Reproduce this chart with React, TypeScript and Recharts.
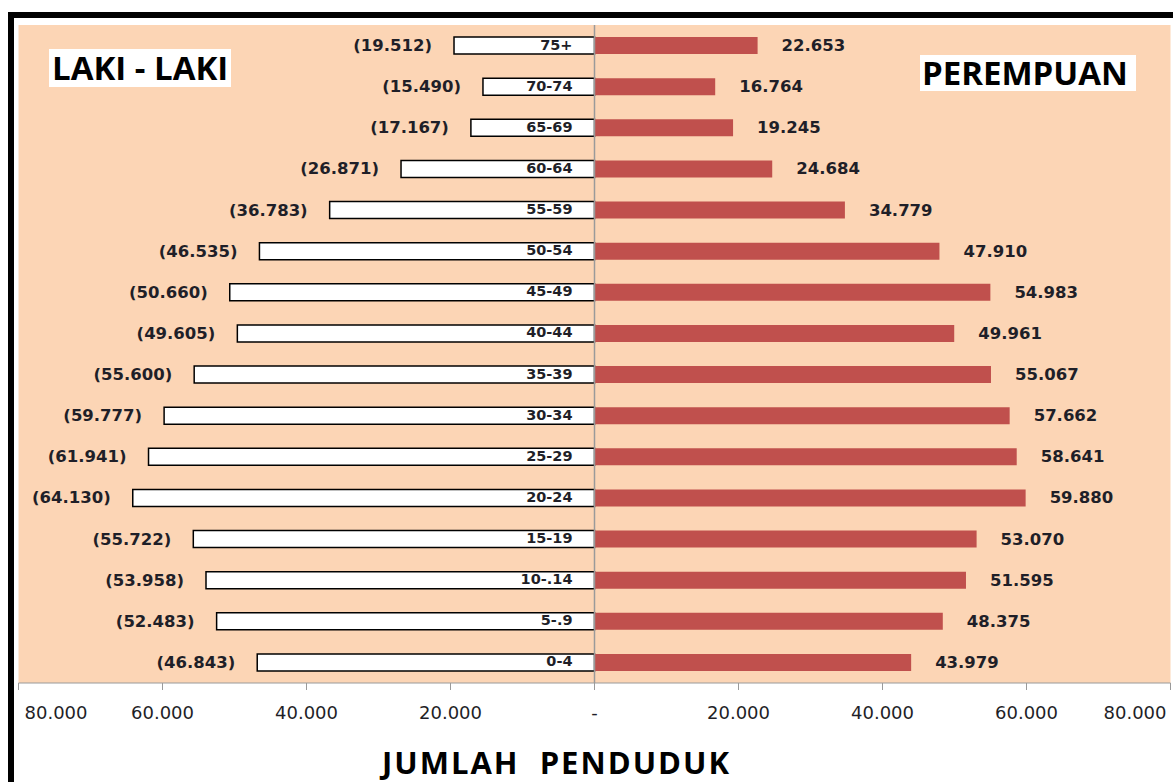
import React from "react";
import { BarChart, Bar, XAxis, YAxis, CartesianGrid, ReferenceLine, LabelList } from "recharts";

const ages = ["75+", "70-74", "65-69", "60-64", "55-59", "50-54", "45-49", "40-44", "35-39", "30-34", "25-29", "20-24", "15-19", "10-.14", "5-.9", "0-4"];
const male = [19512, 15490, 17167, 26871, 36783, 46535, 50660, 49605, 55600, 59777, 61941, 64130, 55722, 53958, 52483, 46843];
const female = [22653, 16764, 19245, 24684, 34779, 47910, 54983, 49961, 55067, 57662, 58641, 59880, 53070, 51595, 48375, 43979];
const xTicks = [-80000, -60000, -40000, -20000, 0, 20000, 40000, 60000, 80000];

const W = 1173;
const H = 782;
const MARGIN = { top: 25, right: 2.5, bottom: 49, left: 18.5 };
const X_AXIS_H = 50;
const ZERO_X = MARGIN.left + (W - MARGIN.left - MARGIN.right) / 2;
const BAND = (H - MARGIN.top - MARGIN.bottom - X_AXIS_H) / ages.length;

const PEACH = "#FCD5B5";
const RED = "#C0504D";
const AXIS = "#9A9A9A";
const TXT = "#1F1F28";
const NUM_FONT = "'DejaVu Sans', Verdana, sans-serif";
const HEAD_FONT = "'Open Sans', sans-serif";

const data = ages.map((age, i) => ({ age, male: -male[i], female: female[i] }));

const fmt = (n: number) => String(Math.abs(n)).replace(/\B(?=(\d{3})+(?!\d))/g, ".");

const box = (p: any) => {
  const v = p.viewBox ?? p;
  const x = Number(v.x), w = Number(v.width), y = Number(v.y), h = Number(v.height);
  return { left: Math.min(x, x + w), right: Math.max(x, x + w), cy: y + h / 2 };
};

const MaleLabel = (p: any) => {
  const { left, right, cy } = box(p);
  return (
    <g>
      <text x={left - 22} y={cy} textAnchor="end" dominantBaseline="central"
        fontFamily={NUM_FONT} fontWeight="bold" fontSize={16.5} fill={TXT}>
        ({fmt(p.value)})
      </text>
      <text x={right - 22} y={cy - 1} textAnchor="end" dominantBaseline="central"
        fontFamily={NUM_FONT} fontWeight="bold" fontSize={14.5} fill={TXT}>
        {ages[p.index]}
      </text>
    </g>
  );
};

const FemaleLabel = (p: any) => {
  const { right, cy } = box(p);
  return (
    <text x={right + 24} y={cy} textAnchor="start" dominantBaseline="central"
      fontFamily={NUM_FONT} fontWeight="bold" fontSize={16.5} fill={TXT}>
      {fmt(p.value)}
    </text>
  );
};

const XTick = (p: any) => {
  const v = p.payload.value;
  const anchor = v === xTicks[0] ? "start" : v === xTicks[xTicks.length - 1] ? "end" : "middle";
  const dx = v === xTicks[0] ? 6 : v === xTicks[xTicks.length - 1] ? -4 : 0;
  return (
    <text x={p.x + dx} y={712} textAnchor={anchor} dominantBaseline="central"
      fontFamily={NUM_FONT} fontSize={18} fill={TXT}>
      {v === 0 ? "-" : fmt(v)}
    </text>
  );
};

// small tick marks on the centre axis, between age groups
const BoundaryTick = (p: any) => {
  if (p.index >= ages.length - 1) return <g />;
  const y = p.y + BAND / 2;
  return <line x1={ZERO_X - 6} x2={ZERO_X} y1={y} y2={y} stroke={AXIS} strokeWidth={1} />;
};

export default function App() {
  return (
    <div style={{ position: "absolute", left: 0, top: 0, width: W, height: H, background: "#fff", overflow: "hidden" }}>
      <div style={{ position: "absolute", left: 8, top: 12, width: W, height: H, borderTop: "6px solid #000", borderLeft: "6px solid #000", background: "#fff" }} />
      <div style={{ position: "absolute", left: 0, top: 0 }}>
        <BarChart width={W} height={H} data={data} layout="vertical" stackOffset="sign" margin={MARGIN} barSize={17}>
          <CartesianGrid horizontal={false} vertical={false} fill={PEACH} fillOpacity={1} stroke="none" />
          <XAxis type="number" domain={[-80000, 80000]} ticks={xTicks} allowDataOverflow
            height={X_AXIS_H} stroke={AXIS} tickSize={7} tick={XTick} interval={0} />
          <YAxis type="category" dataKey="age" width={0} axisLine={false} tickLine={false} tick={BoundaryTick} interval={0} />
          <ReferenceLine x={0} stroke={AXIS} strokeWidth={1.5} />
          <Bar dataKey="male" stackId="p" fill="#fff" stroke="#000" strokeWidth={1.5} isAnimationActive={false}>
            <LabelList dataKey="male" content={MaleLabel} />
          </Bar>
          <Bar dataKey="female" stackId="p" fill={RED} isAnimationActive={false}>
            <LabelList dataKey="female" content={FemaleLabel} />
          </Bar>
        </BarChart>
      </div>
      <div style={{ position: "absolute", left: 49, top: 49, height: 38, padding: "0 3px", background: "#fff", fontFamily: HEAD_FONT, fontWeight: 700, fontSize: 33, lineHeight: "38px", color: "#000" }}>
        LAKI - LAKI
      </div>
      <div style={{ position: "absolute", left: 920, top: 55, height: 36, padding: "0 8px 0 2px", background: "#fff", fontFamily: HEAD_FONT, fontWeight: 700, fontSize: 33, lineHeight: "36px", color: "#000" }}>
        PEREMPUAN
      </div>
      <div style={{ position: "absolute", left: 382, top: 742, fontFamily: HEAD_FONT, fontWeight: 700, fontSize: 31, lineHeight: "40px", letterSpacing: 2, color: "#000", whiteSpace: "pre" }}>
        JUMLAH  PENDUDUK
      </div>
    </div>
  );
}
